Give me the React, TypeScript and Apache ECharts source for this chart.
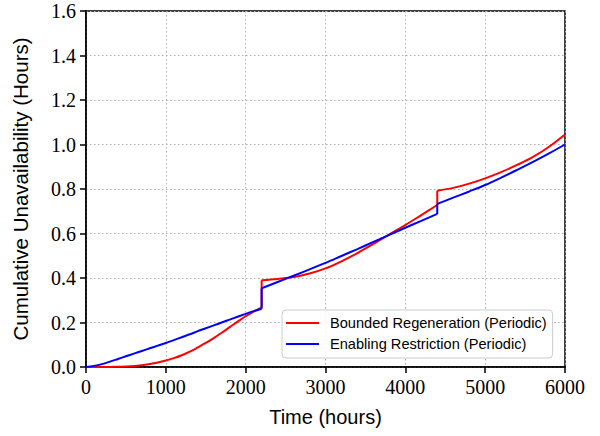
import React, { useEffect, useRef } from "react";
import * as echarts from "echarts";

// Time (hours) for each periodic segment
const seg1Hours = [0, 100, 200, 300, 400, 500, 600, 700, 800, 900, 1000, 1100, 1200, 1300, 1400, 1500, 1600, 1700, 1800, 1900, 2000, 2100, 2200];
const seg2Hours = [2200, 2400, 2600, 2800, 3000, 3200, 3400, 3600, 3800, 4000, 4200, 4400];
const seg3Hours = [4400, 4600, 4800, 5000, 5200, 5400, 5600, 5800, 6000];

// Bounded Regeneration (Periodic)
const redSeg1 = [0, 0, 0, 0, 0.001, 0.002, 0.004, 0.008, 0.013, 0.02, 0.029, 0.04, 0.053, 0.069, 0.088, 0.108, 0.13, 0.154, 0.179, 0.204, 0.228, 0.249, 0.268];
const redSeg2 = [0.39, 0.396, 0.404, 0.42, 0.443, 0.475, 0.512, 0.553, 0.596, 0.638, 0.683, 0.728];
const redSeg3 = [0.792, 0.805, 0.824, 0.848, 0.876, 0.908, 0.944, 0.99, 1.045];

// Enabling Restriction (Periodic)
const blueSeg1 = [0, 0.005, 0.013, 0.024, 0.036, 0.048, 0.06, 0.072, 0.084, 0.096, 0.108, 0.121, 0.134, 0.147, 0.161, 0.174, 0.187, 0.2, 0.213, 0.226, 0.239, 0.251, 0.262];
const blueSeg2 = [0.354, 0.382, 0.41, 0.439, 0.468, 0.499, 0.53, 0.562, 0.594, 0.626, 0.657, 0.688];
const blueSeg3 = [0.733, 0.761, 0.789, 0.818, 0.851, 0.886, 0.922, 0.96, 1.0];

const xTicks = [0, 1000, 2000, 3000, 4000, 5000, 6000];
const yTicks = [0, 0.2, 0.4, 0.6, 0.8, 1.0, 1.2, 1.4, 1.6];

const RED_NAME = "Bounded Regeneration (Periodic)";
const BLUE_NAME = "Enabling Restriction (Periodic)";

const SERIF = "'Liberation Serif', 'DejaVu Serif', 'Times New Roman', serif";
const SANS = "'Liberation Sans', 'DejaVu Sans', Arial, sans-serif";

const zip = (xs: number[], ys: number[]) => xs.map((x, i) => [x, ys[i]]);

export default function App() {
  const ref = useRef<HTMLDivElement>(null);
  useEffect(() => {
    if (!ref.current) return;
    const chart = echarts.init(ref.current, null, { renderer: "svg" });
    const mk = (name: string, color: string, xs: number[], ys: number[], z: number) => ({
      type: "line",
      name,
      data: zip(xs, ys),
      symbol: "none",
      smooth: 0.35,
      lineStyle: { color, width: 2 },
      itemStyle: { color },
      z,
    });
    const jump = (name: string, color: string, a: number[], b: number[], c: number[], z: number) => ({
      type: "line",
      name,
      data: [
        [2200, a[a.length - 1]],
        [2200, b[0]],
        "-",
        [4400, b[b.length - 1]],
        [4400, c[0]],
      ],
      symbol: "none",
      connectNulls: false,
      lineStyle: { color, width: 2 },
      itemStyle: { color },
      z,
    });
    chart.setOption({
      animation: false,
      backgroundColor: "#fff",
      grid: {
        left: 86,
        right: 35,
        top: 11,
        bottom: 69,
        show: true,
        borderColor: "#000",
        borderWidth: 1.5,
        backgroundColor: "transparent",
      },
      legend: {
        orient: "vertical",
        left: 282,
        top: 310,
        data: [RED_NAME, BLUE_NAME],
        icon: "rect",
        itemWidth: 33,
        itemHeight: 2,
        itemGap: 5,
        padding: [5, 6, 6, 4],
        backgroundColor: "rgba(255,255,255,0.85)",
        borderColor: "#cccccc",
        borderWidth: 1,
        borderRadius: 4,
        selectedMode: false,
        textStyle: {
          fontFamily: SANS,
          fontSize: 14.6,
          color: "#000",
          lineHeight: 16,
          padding: [0, 0, 0, 6],
        },
      },
      xAxis: {
        type: "value",
        min: xTicks[0],
        max: xTicks[xTicks.length - 1],
        interval: 1000,
        name: "Time (hours)",
        nameLocation: "middle",
        nameGap: 40,
        nameTextStyle: { fontFamily: SANS, fontSize: 20, color: "#000" },
        axisLine: { lineStyle: { color: "#000", width: 1.5 } },
        axisTick: { show: true, length: 6, lineStyle: { color: "#000", width: 1.5 } },
        axisLabel: {
          fontFamily: SERIF,
          fontSize: 20,
          color: "#000",
          margin: 10,
          formatter: (v: number) => String(v),
        },
        splitLine: {
          show: true,
          lineStyle: { color: "#b0b0b0", type: [1.5, 2.5], width: 1 },
        },
      },
      yAxis: {
        type: "value",
        min: yTicks[0],
        max: yTicks[yTicks.length - 1],
        interval: 0.2,
        name: "Cumulative Unavailability (Hours)",
        nameLocation: "middle",
        nameGap: 55,
        nameTextStyle: { fontFamily: SANS, fontSize: 20.5, color: "#000" },
        axisLine: { show: true, lineStyle: { color: "#000", width: 1.5 } },
        axisTick: { show: true, length: 6, lineStyle: { color: "#000", width: 1.5 } },
        axisLabel: {
          fontFamily: SERIF,
          fontSize: 20,
          color: "#000",
          margin: 10,
          formatter: (v: number) => v.toFixed(1),
        },
        splitLine: {
          show: true,
          lineStyle: { color: "#b0b0b0", type: [1.5, 2.5], width: 1 },
        },
      },
      series: [
        mk(RED_NAME, "#ff0000", seg1Hours, redSeg1, 2),
        mk(RED_NAME, "#ff0000", seg2Hours, redSeg2, 2),
        mk(RED_NAME, "#ff0000", seg3Hours, redSeg3, 2),
        mk(BLUE_NAME, "#0000ff", seg1Hours, blueSeg1, 3),
        mk(BLUE_NAME, "#0000ff", seg2Hours, blueSeg2, 3),
        mk(BLUE_NAME, "#0000ff", seg3Hours, blueSeg3, 3),
        jump(RED_NAME, "#ff0000", redSeg1, redSeg2, redSeg3, 2),
        jump(BLUE_NAME, "#0000ff", blueSeg1, blueSeg2, blueSeg3, 3),
      ],
    });
    return () => chart.dispose();
  }, []);
  return <div ref={ref} style={{ width: 600, height: 436, position: "absolute", left: 0, top: 0 }} />;
}
